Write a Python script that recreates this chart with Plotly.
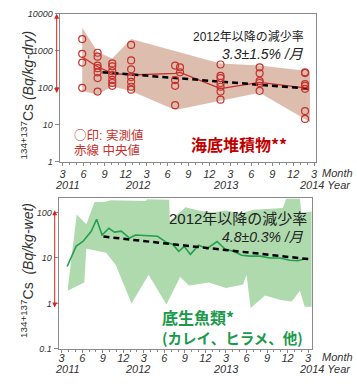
import plotly.graph_objects as go

# ---------------- data ----------------
# months counted from Jan 2011 = 1  (Mar 2011 = 3, Mar 2014 = 39)
tick_months = [3, 6, 9, 12, 15, 18, 21, 24, 27, 30, 33, 36, 39]
tick_labels = ["3", "6", "9", "12", "3", "6", "9", "12", "3", "6", "9", "12", "3"]

# sediment (top) - observed values
sed_obs_month = [5.8] * 4 + [8.0] * 7 + [10.1] * 7 + [12.8] * 7 + [19.1] * 4 + [19.8] * 2 + [25.6] * 7 + [31.2] * 5 + [37.7] * 7
sed_obs_value = [2070, 830, 480, 100,
                 885, 695, 400, 340, 263, 183, 79,
                 457, 380, 280, 220, 163, 135, 113,
                 1440, 550, 316, 195, 145, 107, 89,
                 400, 162, 113, 34,
                 357, 263,
                 427, 210, 183, 135, 107, 79, 48,
                 357, 246, 152, 135, 83,
                 263, 250, 126, 113, 94, 23.5, 14.5]
sed_med_month = [5.8, 8.0, 10.1, 12.8, 19.1, 19.8, 25.6, 31.2, 37.7]
sed_med_value = [680, 370, 245, 222, 245, 260, 95, 141, 100]
sed_up_month = [5.8, 8.0, 10.1, 12.8, 25.6, 31.2, 38.4]
sed_up_value = [4200, 930, 620, 2070, 455, 400, 280]
sed_lo_month = [5.8, 8.0, 10.1, 12.8, 19.1, 25.6, 31.2, 38.4]
sed_lo_value = [82, 66, 108, 82, 25, 45, 74, 12]
sed_trend_month = [8.7, 38.1]
sed_trend_value = [265, 95]

# bottom fish (bottom) - median and range
fish_month = [3.8, 5.1, 6.1, 7.3, 8.1, 8.9, 9.9, 10.7, 11.7, 12.9, 13.8, 17.0, 18.4, 19.2, 20.1,
              20.9, 21.8, 23.0, 24.2, 25.7, 26.9, 28.1, 29.3, 30.5, 32.0, 33.4, 34.9, 36.3, 37.5, 38.3]
fish_med = [6.5, 18, 23, 38, 71, 32, 45, 37, 39, 27.5, 32, 30, 21.5, 20, 14,
            18, 12, 19, 16, 23, 15.5, 14, 11.5, 11, 11, 10, 10, 8.9, 8.7, 9.4]
fish_up_month = [3.9, 5.2, 6.6, 7.8, 9.2, 10.2, 15.3, 15.5, 18.7, 18.8, 21.1, 23, 25, 27, 29, 31,
                 33, 35.3, 35.8, 37.8, 38.0, 39.5]
fish_up_value = [2.2, 90, 55, 170, 170, 185, 180, 195, 190, 65, 130, 110, 100, 110, 95, 115,
                 120, 125, 200, 200, 100, 105]
fish_lo_month = [3.9, 6.3, 6.6, 7.6, 9.5, 10.9, 13.2, 15.7, 18.3, 20.3, 21.6, 24.5, 27, 29.5, 30.0,
                 30.6, 32.7, 35.0, 36.6, 37.8, 38.5, 39.5]
fish_lo_value = [1.9, 2.9, 16, 15, 13, 7, 1.0, 4.3, 0.95, 3.8, 2.5, 2.9, 2.2, 2.6, 4.3,
                 0.8, 1.5, 1.2, 1.1, 1.9, 0.85, 0.85]
fish_trend_month = [9.1, 39.2]
fish_trend_value = [29.5, 9.4]

# ---------------- style ----------------
W, H = 357, 391
FONT = "Liberation Sans, Arial, Noto Sans CJK JP"
JP = "Noto Sans CJK JP, Liberation Sans"
RED = "#c8302c"
TAN = "rgba(214,178,160,0.85)"
GREEN_BAND = "rgba(160,212,160,0.85)"
GREEN = "#22a04c"
GREEN_TXT = "#1a9a4a"
AX = "#8a8a8a"
TXT = "#333333"

def px2x(px):
    return px / W

def px2y(py):
    return 1 - py / H

fig = go.Figure()

# top panel
fig.add_trace(go.Scatter(x=sed_up_month + sed_lo_month[::-1], y=sed_up_value + sed_lo_value[::-1],
                         fill="toself", fillcolor=TAN, line=dict(width=0), mode="lines",
                         xaxis="x", yaxis="y", hoverinfo="skip"))
fig.add_trace(go.Scatter(x=sed_med_month, y=sed_med_value, mode="lines",
                         line=dict(color=RED, width=1.3), xaxis="x", yaxis="y"))
fig.add_trace(go.Scatter(x=sed_trend_month, y=sed_trend_value, mode="lines",
                         line=dict(color="black", width=2.5, dash="6px,4px"), xaxis="x", yaxis="y"))
fig.add_trace(go.Scatter(x=sed_obs_month, y=sed_obs_value, mode="markers",
                         marker=dict(symbol="circle-open", size=7, color=RED, line=dict(width=1.2)),
                         xaxis="x", yaxis="y"))

# bottom panel
fig.add_trace(go.Scatter(x=fish_up_month + fish_lo_month[::-1], y=fish_up_value + fish_lo_value[::-1],
                         fill="toself", fillcolor=GREEN_BAND, line=dict(width=0), mode="lines",
                         xaxis="x2", yaxis="y2", hoverinfo="skip"))
fig.add_trace(go.Scatter(x=fish_month, y=fish_med, mode="lines",
                         line=dict(color=GREEN, width=1.6), xaxis="x2", yaxis="y2"))
fig.add_trace(go.Scatter(x=fish_trend_month, y=fish_trend_value, mode="lines",
                         line=dict(color="black", width=2.5, dash="6px,4px"), xaxis="x2", yaxis="y2"))

xcommon = dict(tickmode="array", tickvals=tick_months, ticktext=tick_labels, tickangle=0,
               ticks="outside", ticklen=3, tickcolor=AX, showline=True, linecolor=AX, linewidth=1,
               mirror=True, showgrid=False, zeroline=False,
               tickfont=dict(family=FONT, size=11, color=TXT, style="italic"),
               minor=dict(dtick=1, tick0=0, ticks="outside", ticklen=2, tickcolor=AX))
ycommon = dict(type="log", ticks="outside", ticklen=4, tickcolor=AX, showline=True, linecolor=AX,
               linewidth=1, mirror=True, showgrid=False, zeroline=False, tickangle=0,
               tickfont=dict(family=FONT, size=9, color=TXT, style="italic"))

fig.update_layout(
    width=W, height=H, margin=dict(l=0, r=0, t=0, b=0),
    paper_bgcolor="white", plot_bgcolor="white", showlegend=False,
    xaxis=dict(xcommon, domain=[px2x(60), px2x(318)], range=[2.57, 39.3], anchor="y",
               ticklabelstandoff=-1),
    yaxis=dict(ycommon, domain=[px2y(161), px2y(9)], range=[0, 4], anchor="x",
               tickvals=[1, 10, 100, 1000, 10000], ticktext=["1", "10", "100", "1000", "10000"]),
    xaxis2=dict(xcommon, domain=[px2x(59), px2x(314)], range=[2.56, 39.6], anchor="y2",
                ticklabelstandoff=-4),
    yaxis2=dict(ycommon, domain=[px2y(353), px2y(198)], range=[-1, 2.32], anchor="x2",
                tickvals=[0.1, 1, 10, 100], ticktext=["0.1", "1", "10", "100"]),
)

ann = []
def text(x, y, s, size, color=TXT, family=FONT, xanchor="center", **kw):
    ann.append(dict(x=px2x(x), y=px2y(y), xref="paper", yref="paper", text=s, showarrow=False,
                    xanchor=xanchor, yanchor="middle", font=dict(family=family, size=size, color=color), **kw))

# axis titles
text(27, 92, "<sup>134+137</sup>Cs <i>(Bq/kg-dry)</i>", 14, textangle=-90)
text(27, 272, "<sup>134+137</sup>Cs  <i>(Bq/kg-wet)</i>", 14, textangle=-90)

# years / units
for (yy, ym) in [(185, 172), (374, 361)]:
    text(68, yy, "<i>2011</i>", 11)
    text(138, yy, "<i>2012</i>", 11)
    text(227, yy, "<i>2013</i>", 11)
    text(355, yy, "<i>2014 Year</i>", 11, xanchor="right")
    text(322, ym, "<i>Month</i>", 11, xanchor="left")

# annotations top
text(308, 32, "2012年以降の減少率", 12, color="#222", xanchor="right")
text(308, 50, "<i>3.3±1.5% /月</i>", 14, color="#222", xanchor="right")
text(72, 133, "<span style='font-family:Noto Sans CJK JP'>○</span>印: 実測値", 12.5, color=RED, xanchor="left")
text(72, 149, "赤線 中央値", 12.5, color=RED, xanchor="left")
text(240, 143, "<b>海底堆積物**</b>", 16, color="#c00000", family=JP)

# annotations bottom
text(311, 219, "2012年以降の減少率", 15, color="#222", xanchor="right")
text(308, 238, "<i>4.8±0.3% /月</i>", 14, color="#222", xanchor="right")
text(161, 320, "<b>底生魚類*</b>", 16, color=GREEN_TXT, family=JP, xanchor="left")
text(161, 341, "<b>(カレイ、ヒラメ、他)</b>", 14.5, color=GREEN_TXT, family=JP, xanchor="left")

# red double arrows
ann.append(dict(xref="paper", yref="y", x=px2x(57), y=4.0, axref="pixel", ayref="y", ax=0, ay=1.82,
                showarrow=True, arrowhead=2, startarrowhead=2, arrowside="end+start",
                arrowsize=1, arrowwidth=1, arrowcolor="#e02020", text=""))
ann.append(dict(xref="paper", yref="y2", x=px2x(55), y=2.05, axref="pixel", ayref="y2", ax=0, ay=-0.12,
                showarrow=True, arrowhead=2, startarrowhead=2, arrowside="end+start",
                arrowsize=1, arrowwidth=1, arrowcolor="#e02020", text=""))

fig.update_layout(annotations=ann)
fig.write_html("out.html", config={"displayModeBar": False},
               post_script="document.body.style.margin='0';document.body.style.padding='0';")
